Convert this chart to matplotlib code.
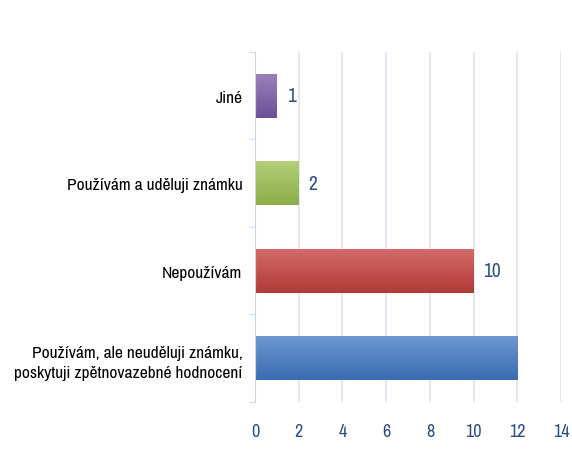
import numpy as np
import matplotlib
matplotlib.use("Agg")
import matplotlib.pyplot as plt
from matplotlib import font_manager
from matplotlib.colors import LinearSegmentedColormap

categories = [
    "Používám, ale neuděluji známku,\nposkytuji zpětnovazebné hodnocení",
    "Nepoužívám",
    "Používám a uděluji známku",
    "Jiné",
]
values = [12, 10, 2, 1]
# the reference shows no data label on the longest bar
value_labels = ["", "10", "2", "1"]
xticks = [0, 2, 4, 6, 8, 10, 12, 14]

# top / bottom gradient colours per bar
grads = [
    ("#6d97cf", "#3a6cb2"),
    ("#d36b69", "#b13a37"),
    ("#b4cf78", "#8cad48"),
    ("#9a81ba", "#6b5096"),
]

names = {f.name for f in font_manager.fontManager.ttflist}


def pick(*fams):
    for f in fams:
        if f in names:
            return f
    return "DejaVu Sans"


label_font = pick("Archivo Narrow", "Liberation Sans")
num_font = pick("Archivo Narrow", "Carlito", "Liberation Sans")
label_blue = "#2f4f7f"

fig = plt.figure(figsize=(5.72, 4.64), dpi=100)
ax = fig.add_axes([0.4458, 0.1315, 0.981 - 0.4458, 0.8858 - 0.1315])

y = np.arange(len(categories))
bars = ax.barh(y, values, height=0.5, color="none", zorder=2)

grad = np.linspace(0, 1, 64).reshape(-1, 1)
for b, (top, bot) in zip(bars, grads):
    cmap = LinearSegmentedColormap.from_list("g", [bot, top])
    x0, y0 = b.get_xy()
    ax.imshow(grad, cmap=cmap, aspect="auto", origin="lower",
              extent=[x0, x0 + b.get_width(), y0, y0 + b.get_height()], zorder=2)

for yi, v, lab in zip(y, values, value_labels):
    if lab:
        ax.annotate(lab, (v, yi), xytext=(7, 0), textcoords="offset points",
                    va="center", ha="left", fontsize=14, color=label_blue, family=num_font)

ax.set_xlim(0, 14)
ax.set_ylim(-0.5, len(categories) - 0.5)
ax.set_xticks(xticks)
ax.set_xticklabels([str(t) for t in xticks], fontsize=13, color=label_blue, family=num_font)
ax.set_yticks(y)
ax.set_yticklabels(categories, fontsize=12.5, family=label_font, ha="right", linespacing=1.45)
ax.set_yticks(np.arange(-0.5, len(categories), 1), minor=True)

ax.grid(axis="x", color="#dce6f2", linewidth=1.2, zorder=0)
for s in ["top", "right", "bottom"]:
    ax.spines[s].set_visible(False)
ax.spines["left"].set_color("#c5d5ea")
ax.tick_params(axis="x", length=0, pad=15)
ax.tick_params(axis="y", which="major", length=0, pad=9)
ax.tick_params(axis="y", which="minor", length=4, color="#c5d5ea")

fig.savefig("out.png", dpi=100)
